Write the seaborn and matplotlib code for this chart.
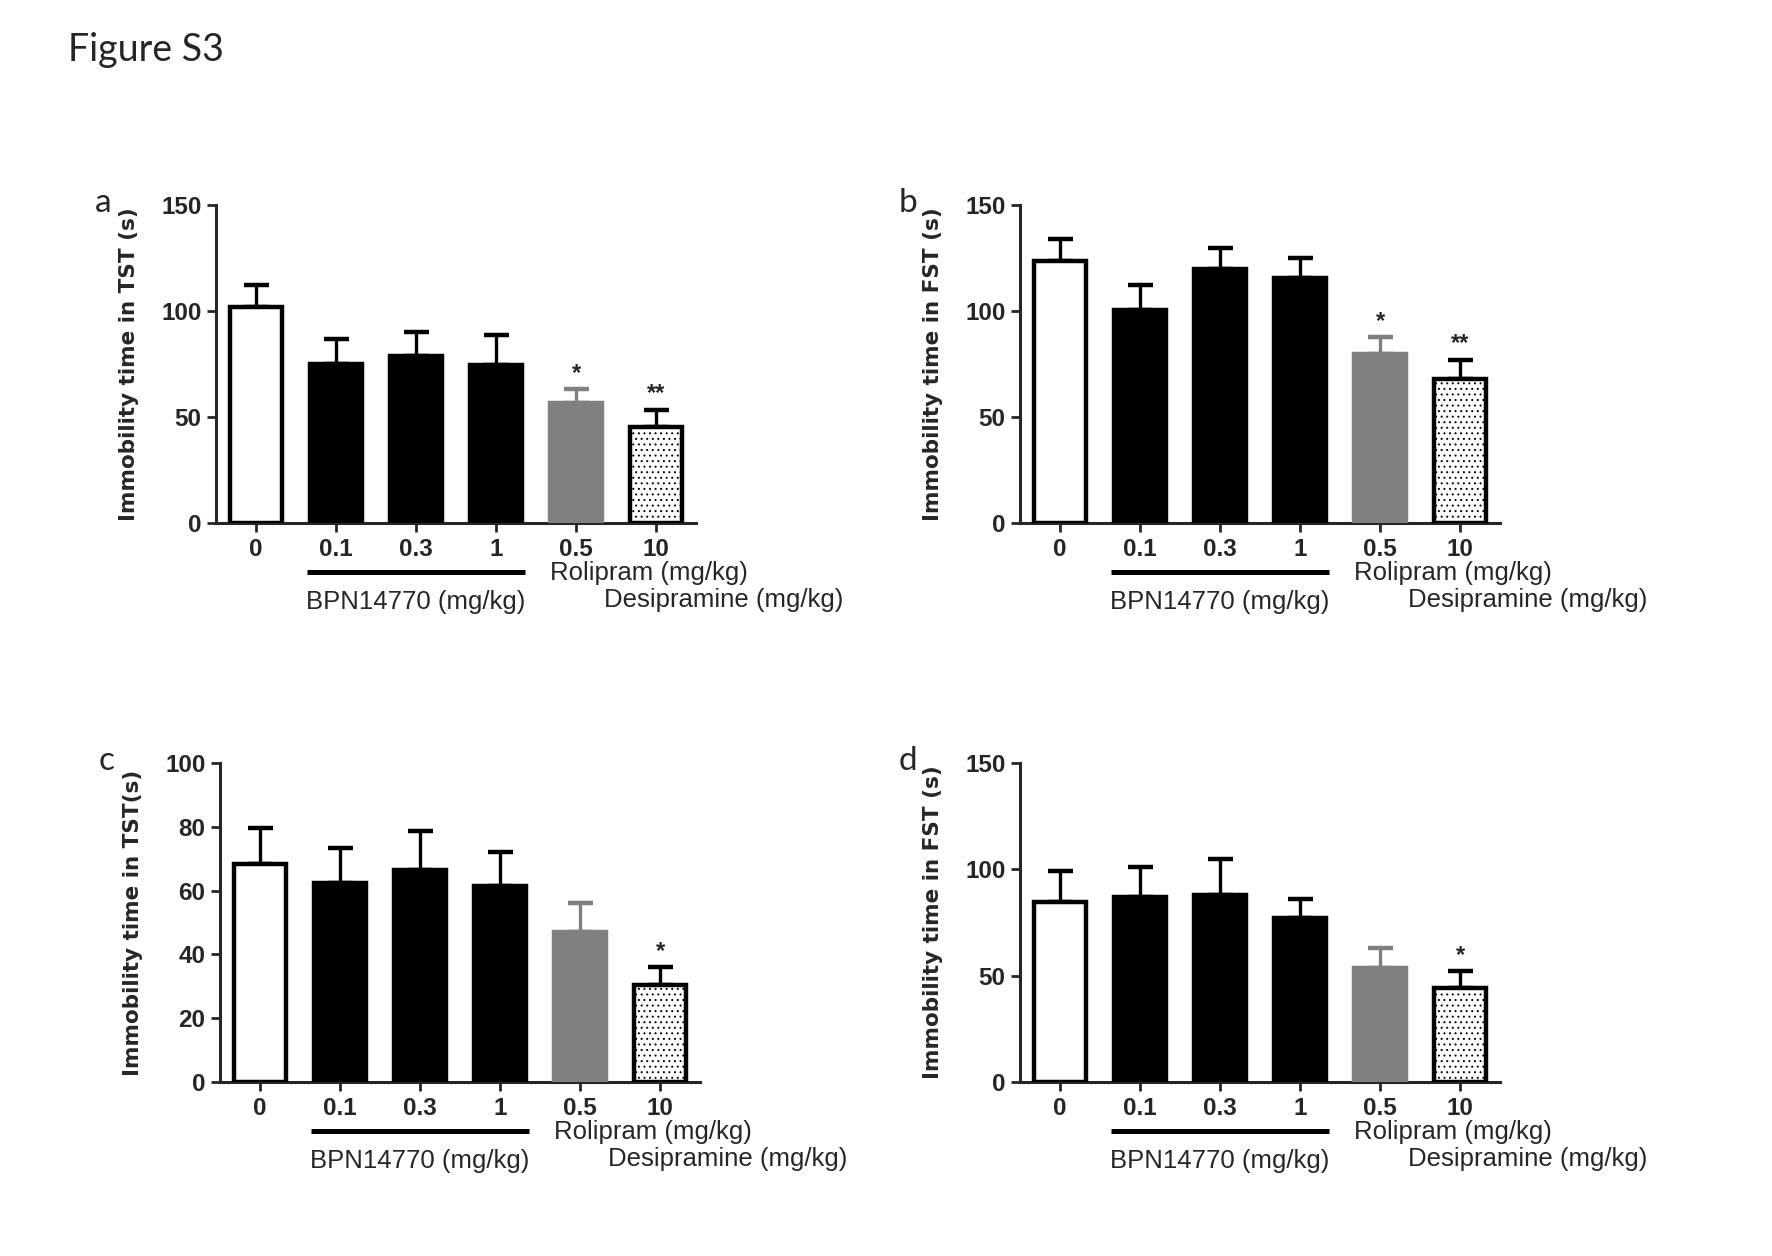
import numpy as np
import pandas as pd
import matplotlib
matplotlib.use("Agg")
import matplotlib.pyplot as plt
import seaborn as sns

doses = ["0", "0.1", "0.3", "1", "0.5", "10"]
bar_colors = ["white", "black", "black", "black", "#808080", "white"]
edge_colors = ["black", "black", "black", "black", "#808080", "black"]

a_mean = [102.0, 75.2, 78.7, 74.5, 56.4, 45.4]
a_top = [112.5, 86.6, 89.9, 88.9, 63.3, 53.5]
b_mean = [123.6, 100.4, 119.8, 115.4, 79.6, 68.0]
b_top = [134.0, 112.2, 129.7, 124.8, 87.8, 77.1]
c_mean = [68.2, 62.5, 66.6, 61.4, 46.9, 30.5]
c_top = [79.5, 73.3, 78.6, 72.1, 56.1, 36.1]
d_mean = [84.8, 86.9, 87.8, 77.1, 53.7, 44.1]
d_top = [99.4, 101.1, 104.9, 86.1, 62.8, 52.0]

a_stars = ["", "", "", "", "*", "**"]
b_stars = ["", "", "", "", "*", "**"]
c_stars = ["", "", "", "", "", "*"]
d_stars = ["", "", "", "", "", "*"]

ylabels = ["Immobility time in TST (s)", "Immobility time in FST (s)",
           "Immobility time in TST(s)", "Immobility time in FST (s)"]
yticks_ab = [0, 50, 100, 150]
yticks_c = [0, 20, 40, 60, 80, 100]

sns.set_style("ticks")
plt.rcParams["font.family"] = ["Liberation Sans", "DejaVu Sans"]
plt.rcParams["hatch.linewidth"] = 0.7

fig = plt.figure(figsize=(17.72, 12.56), dpi=100)
W, H = 1772, 1256
boxes = [(216, 523, 318), (1020, 523, 318), (220, 1082, 319), (1020, 1082, 319)]

panels = [
    ("a", a_mean, a_top, a_stars, yticks_ab, 150),
    ("b", b_mean, b_top, b_stars, yticks_ab, 150),
    ("c", c_mean, c_top, c_stars, yticks_c, 100),
    ("d", d_mean, d_top, d_stars, yticks_ab, 150),
]

for i, (letter, mean, top, stars, yt, ymax) in enumerate(panels):
    left, bottom, h = boxes[i]
    ax = fig.add_axes([left / W, 1 - bottom / H, 480 / W, h / H])
    df = pd.DataFrame({"dose": doses, "value": mean})
    sns.barplot(data=df, x="dose", y="value", hue="dose", order=doses,
                hue_order=doses, palette=bar_colors, width=0.66,
                legend=False, ax=ax, saturation=1)
    for j, p in enumerate(ax.patches):
        p.set_edgecolor(edge_colors[j])
        p.set_linewidth(3.2)
        p.set_zorder(3)
        if j == 5:
            p.set_hatch("...")
    sem = np.array(top) - np.array(mean)
    for j in range(len(doses)):
        ax.errorbar(j, mean[j], yerr=[[0], [sem[j]]], fmt="none",
                    ecolor=edge_colors[j], elinewidth=2.4, capsize=9,
                    capthick=3.2, zorder=2)
        if stars[j]:
            ax.annotate(stars[j], (j, top[j]), xytext=(0, 3),
                        textcoords="offset points", ha="center", va="bottom",
                        fontsize=17, fontweight="bold")
    ax.set_xlim(-0.5, 5.5)
    ax.set_ylim(0, ymax)
    ax.set_yticks(yt)
    ax.set_xlabel("")
    ax.set_ylabel(ylabels[i], fontsize=15.5, fontweight="bold",
                  family=["DejaVu Sans"])
    ax.yaxis.set_label_coords(-0.16, 0.5)
    sns.despine(ax=ax)
    for s in ["left", "bottom"]:
        ax.spines[s].set_linewidth(2.2)
    ax.tick_params(axis="both", width=2, length=6.5, labelsize=17.5, pad=4)
    for lab in ax.get_xticklabels() + ax.get_yticklabels():
        lab.set_fontweight("bold")

    tr = ax.get_xaxis_transform()
    ax.plot([0.64, 3.36], [-0.154, -0.154], transform=tr, clip_on=False,
            color="black", lw=3.6, solid_capstyle="butt")
    ax.text(2.0, -0.248, "BPN14770 (mg/kg)", transform=tr, ha="center",
            va="center", fontsize=18.5)
    ax.text(3.675, -0.157, "Rolipram (mg/kg)", transform=tr, ha="left",
            va="center", fontsize=18.5)
    ax.text(4.35, -0.242, "Desipramine (mg/kg)", transform=tr, ha="left",
            va="center", fontsize=18.5)

    fig.text((left - 121) / W, 1 - (bottom - h + 7) / H, letter,
             fontsize=24, family=["Lato", "DejaVu Sans"], va="baseline")

fig.text(68 / W, 1 - 61 / H, "Figure S3", fontsize=27,
         family=["Lato", "DejaVu Sans"], va="baseline")

fig.savefig("out.png", dpi=100, facecolor="white")
